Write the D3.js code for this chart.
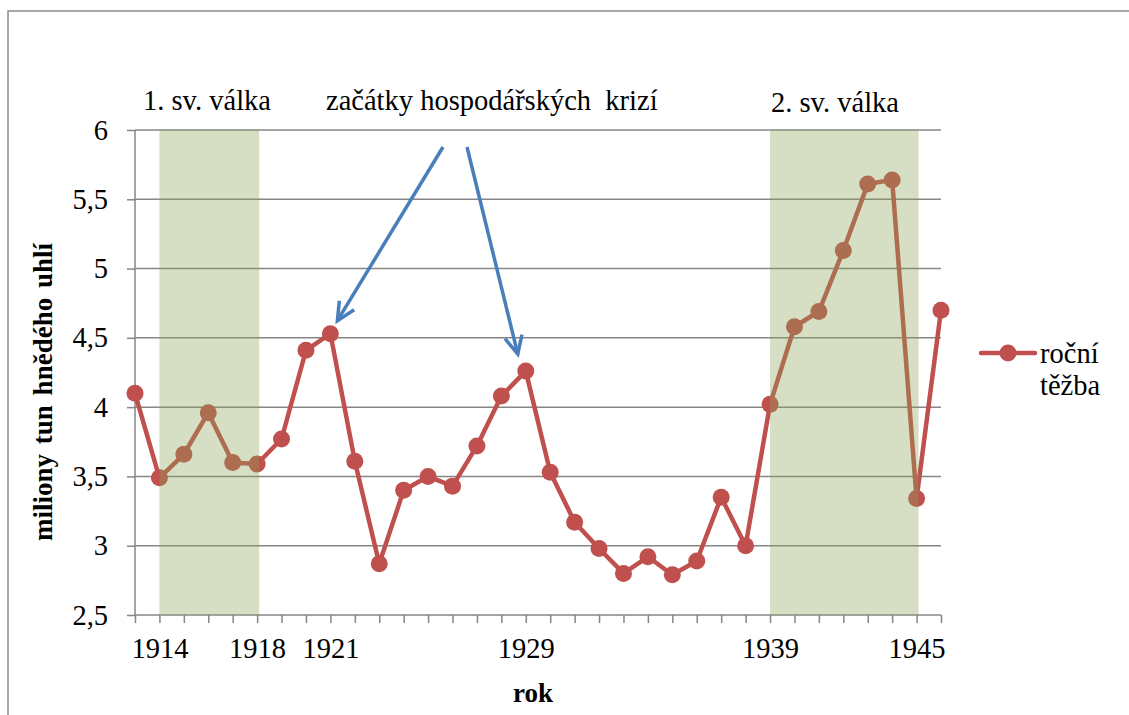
<!DOCTYPE html>
<html><head><meta charset="utf-8">
<script src="https://cdn.jsdelivr.net/npm/d3@7"></script>
<style>body{margin:0;background:#fff}svg{display:block}</style>
</head><body>
<svg id="c" width="1129" height="715" font-family="Liberation Serif"></svg>
<script>
const years = d3.range(1913, 1947);
const values = [4.10,3.49,3.66,3.96,3.60,3.59,3.77,4.41,4.53,3.61,2.87,3.40,3.50,3.43,3.72,4.08,4.26,3.53,3.17,2.98,2.80,2.92,2.79,2.89,3.35,3.00,4.02,4.58,4.69,5.13,5.61,5.64,3.34,4.70];
const yTicks = [2.5,3,3.5,4,4.5,5,5.5,6];
const xLabels = [1914,1918,1921,1929,1939,1945];
const wars = [{from:1914,to:1918,label:"1. sv. válka"},{from:1939,to:1945,label:"2. sv. válka"}];
const crisisYears = [1921,1929];
const seriesName = ["roční","těžba"];

const FF = "Liberation Serif";
const svg = d3.select("#c");
const L=135, R=941, T=130, B=615;
const x = d3.scaleLinear().domain([1913,1946]).range([L,R]);
const y = d3.scaleLinear().domain([2.5,6]).range([B,T]);
const red="#C0504D", grid="#868686";

svg.append("rect").attr("x",8).attr("y",11).attr("width",1300).attr("height",900)
  .attr("fill","none").attr("stroke","#8c8c8c").attr("stroke-width",1.5);

// gridlines
svg.append("g").selectAll("line").data(yTicks.filter(d=>d>2.5)).join("line")
  .attr("x1",L).attr("x2",R).attr("y1",d=>y(d)).attr("y2",d=>y(d))
  .attr("stroke",grid).attr("stroke-width",1.5);

// y axis
const ya = svg.append("g").attr("transform",`translate(${L},0)`)
  .call(d3.axisLeft(y).tickValues(yTicks).tickSize(8).tickPadding(0).tickFormat(d=>d3.format("")(d).replace(".",",")));
ya.attr("font-family",FF);
ya.select(".domain").attr("stroke",grid).attr("stroke-width",1.5).attr("d",`M0,${T}V${B}`);
ya.selectAll(".tick line").attr("stroke",grid).attr("stroke-width",1.5);
ya.selectAll(".tick text").attr("x",-27).attr("dy","0.32em").attr("font-size",28.5).attr("fill","#000")
  .attr("font-family",FF);

// x axis
const xa = svg.append("g").attr("transform",`translate(0,${B})`)
  .call(d3.axisBottom(x).tickValues(years).tickSize(8).tickFormat(d=>xLabels.includes(d)?String(d):""));
xa.attr("font-family",FF);
xa.select(".domain").attr("stroke",grid).attr("stroke-width",1.5).attr("d",`M${L},0H${R}`);
xa.selectAll(".tick line").attr("stroke",grid).attr("stroke-width",1.5);
xa.selectAll(".tick text").attr("y",43).attr("dy",0).attr("font-size",28.5).attr("fill","#000")
  .attr("font-family",FF);

// line
svg.append("path").datum(years.map((yr,i)=>[yr,values[i]]))
  .attr("d",d3.line().x(d=>x(d[0])).y(d=>y(d[1])))
  .attr("fill","none").attr("stroke",red).attr("stroke-width",4.5).attr("stroke-linejoin","round");
svg.append("g").selectAll("circle").data(years.map((yr,i)=>[yr,values[i]])).join("circle")
  .attr("cx",d=>x(d[0])).attr("cy",d=>y(d[1])).attr("r",8.5).attr("fill",red);

// war shading (overlay)
svg.append("g").selectAll("rect").data(wars).join("rect")
  .attr("x",d=>x(d.from)).attr("width",d=>x(d.to)-x(d.from)+2)
  .attr("y",T).attr("height",B-T)
  .attr("fill","#8aa456").attr("fill-opacity",0.35);

// annotation texts
svg.append("text").attr("x",143).attr("y",110).attr("font-family",FF).attr("font-size",28.5).text(wars[0].label);
svg.append("text").attr("x",771).attr("y",112).attr("font-family",FF).attr("font-size",28.5).text(wars[1].label);
svg.append("text").attr("x",326).attr("y",110).attr("font-family",FF).attr("font-size",28.5).attr("xml:space","preserve")
  .style("white-space","pre").text("začátky hospodářských  krizí");

// arrows
const blue="#4A7EBB";
const arrows=[{x1:443,y1:147,yr:crisisYears[0],dx:7,dy:-13},{x1:467,y1:147,yr:crisisYears[1],dx:-8,dy:-17}];
const ag = svg.append("g");
arrows.forEach(a=>{
  const i = years.indexOf(a.yr);
  const tx = x(a.yr)+a.dx, ty = y(values[i])+a.dy;
  ag.append("line").attr("x1",a.x1).attr("y1",a.y1).attr("x2",tx).attr("y2",ty)
    .attr("stroke",blue).attr("stroke-width",3.5);
  const ang = Math.atan2(ty-a.y1, tx-a.x1);
  const len=20, sp=0.45;
  const p1=[tx-len*Math.cos(ang-sp), ty-len*Math.sin(ang-sp)];
  const p2=[tx-len*Math.cos(ang+sp), ty-len*Math.sin(ang+sp)];
  ag.append("path").attr("d",`M${p1}L${tx},${ty}L${p2}`).attr("fill","none")
    .attr("stroke",blue).attr("stroke-width",3.5).attr("stroke-linejoin","miter");
});

// axis titles
svg.append("text").attr("transform","translate(52,392) rotate(-90)").attr("text-anchor","middle")
  .attr("font-family",FF).attr("font-size",27).attr("font-weight","bold").attr("word-spacing",3).text("miliony tun hnědého uhlí");
svg.append("text").attr("x",533).attr("y",702).attr("text-anchor","middle")
  .attr("font-family",FF).attr("font-size",27).attr("font-weight","bold").text("rok");

// legend
const lg = svg.append("g");
lg.append("line").attr("x1",981).attr("x2",1035).attr("y1",353).attr("y2",353).attr("stroke",red).attr("stroke-width",4.5).attr("stroke-linecap","round");
lg.append("circle").attr("cx",1008).attr("cy",353).attr("r",8.5).attr("fill",red);
lg.selectAll("text").data(seriesName).join("text").attr("x",1040).attr("y",(d,i)=>363+i*32)
  .attr("font-family",FF).attr("font-size",28.5).text(d=>d);
</script>
</body></html>
